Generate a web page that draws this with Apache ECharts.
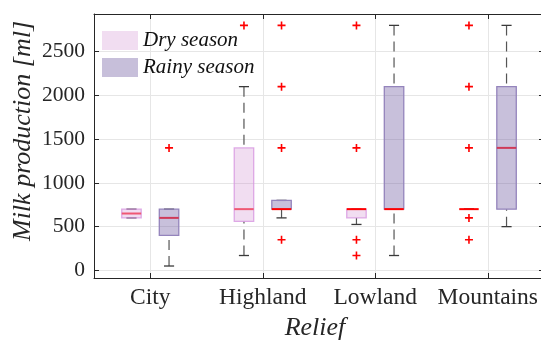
<!DOCTYPE html>
<html>
<head>
<meta charset="utf-8">
<script src="https://cdn.jsdelivr.net/npm/echarts@6/dist/echarts.min.js"></script>
<style>
  html, body { margin: 0; padding: 0; background: #fff; }
  #chart { width: 541px; height: 341px; }
</style>
</head>
<body>
<div id="chart"></div>
<script>
// Milk production by relief, dry vs rainy season (box plots)
const categories = ['City', 'Highland', 'Lowland', 'Mountains'];
const seasons = ['Dry season', 'Rainy season'];
const yTicks = [0, 500, 1000, 1500, 2000, 2500];

// [lower whisker, Q1, median, Q3, upper whisker] for each relief
const dryStats = [
  [600, 600, 650, 700, 700],
  [170, 560, 700, 1400, 2100],
  [525, 600, 700, 700, 700],
  [700, 700, 700, 700, 700]
];
const rainyStats = [
  [50, 400, 600, 700, 700],
  [600, 700, 700, 800, 800],
  [170, 700, 700, 2100, 2800],
  [500, 700, 1400, 2100, 2800]
];
// outliers for each relief
const dryOutliers = [
  [],
  [2800],
  [2800, 1400, 350, 170],
  [2800, 2100, 1400, 600, 350]
];
const rainyOutliers = [
  [1400],
  [2800, 2100, 1400, 350],
  [],
  []
];

const FONT = '"Liberation Serif", "Times New Roman", serif';
const INK = '#262626';
const BOX_OFFSET = 0.167;
const BOX_W = 0.173;
const CAP_W = 0.09;

function boxRenderer(offset, fill, stroke, innerMedian) {
  return function (params, api) {
    const cat = api.value(0);
    const lo = api.value(1), q1 = api.value(2), med = api.value(3), q3 = api.value(4), hi = api.value(5);
    const xc = cat + offset;
    const half = api.size([BOX_W, 0])[0] / 2;
    const capHalf = api.size([CAP_W, 0])[0] / 2;
    const at = v => api.coord([xc, v]);
    const children = [];
    const whisker = { stroke: '#555', lineWidth: 1.2, lineDash: [10, 6] };
    const cap = { stroke: '#3a3a3a', lineWidth: 1.3 };
    const pHi = at(hi), pQ3 = at(q3), pQ1 = at(q1), pLo = at(lo), pMed = at(med);
    if (hi > q3) children.push({ type: 'line', shape: { x1: pHi[0], y1: pHi[1], x2: pQ3[0], y2: pQ3[1] }, style: whisker });
    if (lo < q1) children.push({ type: 'line', shape: { x1: pLo[0], y1: pLo[1], x2: pQ1[0], y2: pQ1[1] }, style: whisker });
    children.push({ type: 'line', shape: { x1: pHi[0] - capHalf, y1: pHi[1], x2: pHi[0] + capHalf, y2: pHi[1] }, style: cap });
    children.push({ type: 'line', shape: { x1: pLo[0] - capHalf, y1: pLo[1], x2: pLo[0] + capHalf, y2: pLo[1] }, style: cap });
    if (q3 > q1) {
      children.push({
        type: 'rect',
        shape: { x: pQ3[0] - half, y: pQ3[1], width: half * 2, height: pQ1[1] - pQ3[1] },
        style: { fill: fill, stroke: stroke, lineWidth: 1.3 }
      });
    }
    const onEdge = (med === q1 || med === q3);
    children.push({
      type: 'line',
      shape: { x1: pMed[0] - half, y1: pMed[1], x2: pMed[0] + half, y2: pMed[1] },
      style: { stroke: onEdge ? '#ff0000' : innerMedian, lineWidth: 2 }
    });
    return { type: 'group', children: children };
  };
}

function outlierPoints(list, offset) {
  const pts = [];
  list.forEach((vals, i) => vals.forEach(v => pts.push([i + 1 + offset, v])));
  return pts;
}

const PLUS = 'path://M3.2,0H4.8V3.2H8V4.8H4.8V8H3.2V4.8H0V3.2H3.2Z';
const DRY_FILL = 'rgba(200,120,200,0.25)';
const DRY_EDGE = 'rgba(215,150,225,0.8)';
const RAINY_FILL = 'rgba(110,90,160,0.38)';
const RAINY_EDGE = '#9484bc';

const chart = echarts.init(document.getElementById('chart'), null, { renderer: 'canvas' });

const xBase = {
  type: 'value', min: 0.5, max: 4.5,
  axisLine: { show: true, onZero: false, lineStyle: { color: INK, width: 1 } },
  axisTick: { show: true, inside: true, length: 5, customValues: [1, 2, 3, 4], lineStyle: { color: INK } }
};
const yBase = {
  type: 'value', min: -87, max: 2930,
  axisLine: { show: true, onZero: false, lineStyle: { color: INK, width: 1 } },
  axisTick: { show: true, inside: true, length: 5, customValues: yTicks, lineStyle: { color: INK } }
};

chart.setOption({
  animation: false,
  backgroundColor: '#fff',
  grid: { left: 94, top: 14, width: 450, height: 264, containLabel: false, outerBoundsMode: 'none' },
  legend: {
    orient: 'vertical', left: 102, top: 30, padding: 0,
    itemWidth: 36, itemHeight: 19, itemGap: 6,
    textStyle: { fontFamily: FONT, fontStyle: 'italic', fontSize: 21, color: '#111', lineHeight: 19 },
    data: [
      { name: seasons[0], icon: 'rect', itemStyle: { color: '#f1ddf1', borderWidth: 0 } },
      { name: seasons[1], icon: 'rect', itemStyle: { color: '#c7bfda', borderWidth: 0 } }
    ]
  },
  xAxis: [
    Object.assign({}, xBase, {
      position: 'bottom',
      name: 'Relief', nameLocation: 'middle', nameGap: 33,
      nameTextStyle: { fontFamily: FONT, fontStyle: 'italic', fontSize: 26, color: INK, padding: [0, 8, 0, 0] },
      axisLabel: {
        show: true, margin: 8, customValues: [1, 2, 3, 4],
        formatter: v => categories[Math.round(v) - 1],
        fontFamily: FONT, fontSize: 23.5, color: INK
      },
      splitLine: { show: true, lineStyle: { color: '#e6e6e6', width: 1 } }
    }),
    Object.assign({}, xBase, { position: 'top', axisLabel: { show: false }, splitLine: { show: false } })
  ],
  yAxis: [
    Object.assign({}, yBase, {
      position: 'left',
      axisLabel: {
        show: true, margin: 9, customValues: yTicks,
        formatter: v => String(v),
        fontFamily: FONT, fontSize: 21.5, color: INK
      },
      splitLine: { show: true, lineStyle: { color: '#e6e6e6', width: 1 } }
    }),
    Object.assign({}, yBase, { position: 'right', axisLabel: { show: false }, splitLine: { show: false } })
  ],
  graphic: [{
    type: 'text', x: 23, y: 131, rotation: Math.PI / 2,
    style: {
      text: 'Milk production [ml]', font: 'italic 26px ' + FONT,
      fill: INK, align: 'center', verticalAlign: 'middle'
    }
  }],
  series: [
    {
      name: seasons[0], type: 'custom', xAxisIndex: 0, yAxisIndex: 0,
      itemStyle: { color: '#f1ddf1' },
      renderItem: boxRenderer(-BOX_OFFSET, DRY_FILL, DRY_EDGE, '#ef5874'),
      encode: { x: 0, y: [1, 2, 3, 4, 5] },
      data: dryStats.map((s, i) => [i + 1].concat(s)),
      z: 3
    },
    {
      name: seasons[1], type: 'custom', xAxisIndex: 0, yAxisIndex: 0,
      itemStyle: { color: '#c7bfda' },
      renderItem: boxRenderer(BOX_OFFSET, RAINY_FILL, RAINY_EDGE, '#cf3a58'),
      encode: { x: 0, y: [1, 2, 3, 4, 5] },
      data: rainyStats.map((s, i) => [i + 1].concat(s)),
      z: 3
    },
    {
      name: 'dry outliers', type: 'scatter', xAxisIndex: 0, yAxisIndex: 0,
      symbol: PLUS, symbolSize: 8, itemStyle: { color: '#ff0000', opacity: 1 },
      data: outlierPoints(dryOutliers, -BOX_OFFSET), z: 4
    },
    {
      name: 'rainy outliers', type: 'scatter', xAxisIndex: 0, yAxisIndex: 0,
      symbol: PLUS, symbolSize: 8, itemStyle: { color: '#ff0000', opacity: 1 },
      data: outlierPoints(rainyOutliers, BOX_OFFSET), z: 4
    }
  ]
});
</script>
</body>
</html>
